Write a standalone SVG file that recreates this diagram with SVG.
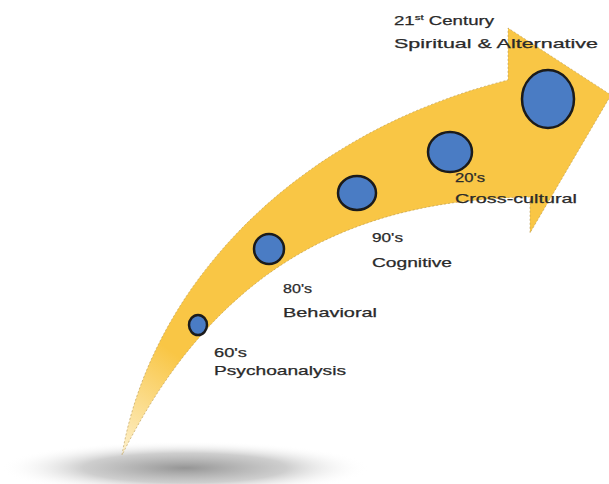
<svg xmlns="http://www.w3.org/2000/svg" width="609" height="484" viewBox="0 0 609 484">
<style>
.lbl{font-family:"Liberation Sans",Arial,sans-serif;font-size:13px;fill:#2a2a2a;stroke:#2a2a2a;stroke-width:0.25}
.dot{fill:#4A7CC4;stroke:#1b1b1b;stroke-width:2.5}
</style>
<defs>
<radialGradient id="shadow" cx="0.5" cy="0.5" r="0.5">
<stop offset="0" stop-color="#959595"/>
<stop offset="0.55" stop-color="#c2c2c2" stop-opacity="0.8"/>
<stop offset="1" stop-color="#ffffff" stop-opacity="0"/>
</radialGradient>
<linearGradient id="arrowFill" gradientUnits="userSpaceOnUse" x1="122" y1="455" x2="230" y2="300">
<stop offset="0" stop-color="#FDF0CC"/>
<stop offset="0.6" stop-color="#F9C645"/>
<stop offset="1" stop-color="#F9C645"/>
</linearGradient>
</defs>
<rect width="609" height="484" fill="#ffffff"/>
<ellipse cx="185" cy="468" rx="185" ry="27" fill="url(#shadow)"/>
<g id="arrow">
<path d="M122 455 C150 290 290 135 508 80 L508 28 L611 95 L530 233 L530 197 C360 200 220 260 122 455 Z" fill="url(#arrowFill)" stroke="#b89a55" stroke-width="1" stroke-dasharray="2 2" stroke-opacity="0.6"/>
</g>
<g id="n60"><ellipse class="dot" cx="198" cy="325" rx="9" ry="10"/>
<text class="lbl" x="214" y="357" textLength="33" lengthAdjust="spacingAndGlyphs">60's</text>
<text class="lbl" x="214" y="375" textLength="132" lengthAdjust="spacingAndGlyphs">Psychoanalysis</text></g>
<g id="n80"><ellipse class="dot" cx="269" cy="249" rx="15" ry="15"/>
<text class="lbl" x="283" y="293" textLength="29" lengthAdjust="spacingAndGlyphs">80's</text>
<text class="lbl" x="283" y="317" textLength="94" lengthAdjust="spacingAndGlyphs">Behavioral</text></g>
<g id="n90"><ellipse class="dot" cx="357" cy="193" rx="19" ry="17"/>
<text class="lbl" x="372" y="242" textLength="31" lengthAdjust="spacingAndGlyphs">90's</text>
<text class="lbl" x="372" y="267" textLength="80" lengthAdjust="spacingAndGlyphs">Cognitive</text></g>
<g id="n20"><ellipse class="dot" cx="450" cy="152" rx="22" ry="20"/>
<text class="lbl" x="455" y="182" textLength="30" lengthAdjust="spacingAndGlyphs">20's</text>
<text class="lbl" x="455" y="203" textLength="122" lengthAdjust="spacingAndGlyphs">Cross-cultural</text></g>
<g id="n21"><ellipse class="dot" cx="548" cy="99" rx="26" ry="29"/>
<text class="lbl" x="394" y="25" textLength="100" lengthAdjust="spacingAndGlyphs">21<tspan font-size="8" dy="-5">st</tspan><tspan dy="5"> Century</tspan></text>
<text class="lbl" x="394" y="48" textLength="204" lengthAdjust="spacingAndGlyphs">Spiritual &amp; Alternative</text></g>
</svg>
